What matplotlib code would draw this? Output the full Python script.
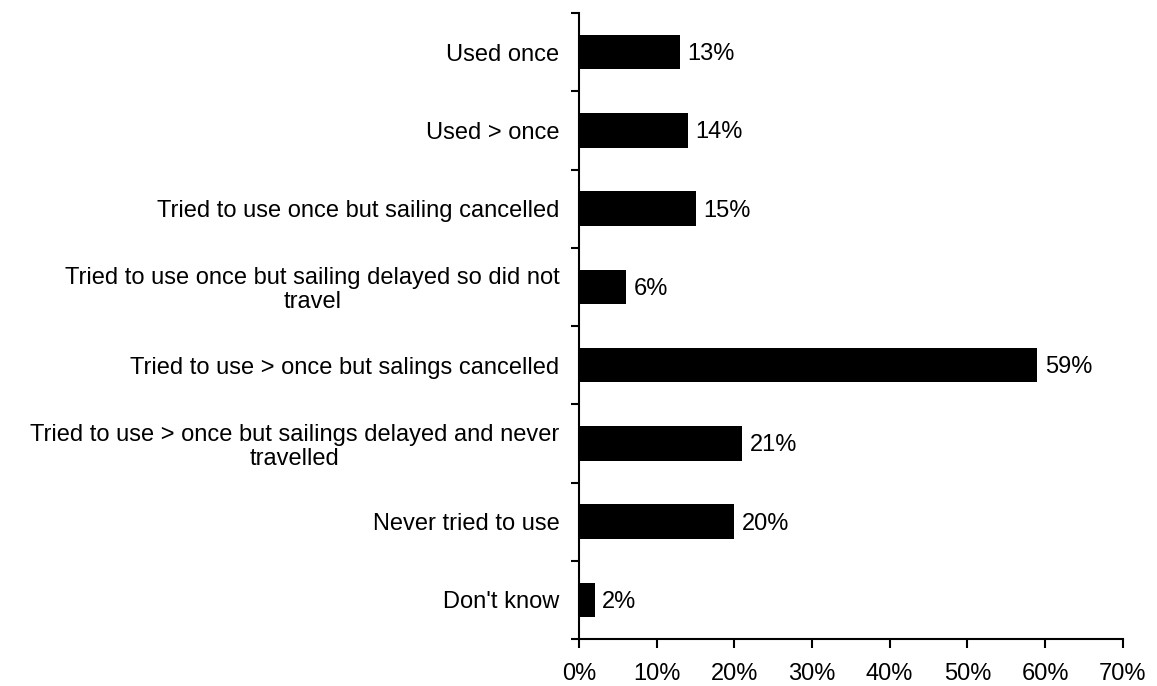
import matplotlib
matplotlib.use('Agg')
import matplotlib.pyplot as plt
import numpy as np
from matplotlib.ticker import FixedLocator, NullFormatter

plt.rcParams['font.family'] = ['Liberation Sans', 'DejaVu Sans']

categories = ['Used once',
              'Used > once',
              'Tried to use once but sailing cancelled',
              'Tried to use once but sailing delayed so did not\ntravel',
              'Tried to use > once but salings cancelled',
              'Tried to use > once but sailings delayed and never\ntravelled',
              'Never tried to use',
              "Don't know"]
values = [13, 14, 15, 6, 59, 21, 20, 2]
xticks = [0, 10, 20, 30, 40, 50, 60, 70]

fs = 17

fig = plt.figure(figsize=(11.57, 6.86), dpi=100)
ax = fig.add_axes([579 / 1157, 1 - 639 / 686, (1122.7 - 579) / 1157, (639 - 13) / 686])

y = np.arange(len(categories))
ax.barh(y, values, height=0.44, color='black')
for yi, v in zip(y, values):
    ax.text(v + 1.0, yi + 0.025, f'{v}%', va='center', ha='left', fontsize=fs)

ax.set_ylim(len(categories) - 0.5, -0.5)
ax.set_xlim(0, 70)
ax.set_xticks(xticks)
ax.set_xticklabels([f'{t}%' for t in xticks], fontsize=fs)
ax.set_yticks(y)
ax.set_yticklabels(categories, fontsize=fs, multialignment='center', linespacing=1.1)
ax.yaxis.set_minor_locator(FixedLocator(np.arange(-0.5, len(categories), 1)))
ax.yaxis.set_minor_formatter(NullFormatter())
ax.tick_params(axis='y', which='major', length=0, pad=14)
ax.tick_params(axis='y', which='minor', length=6, width=1.5, direction='out')
ax.tick_params(axis='x', length=6.5, width=1.5, direction='out', pad=11)

for s in ['top', 'right']:
    ax.spines[s].set_visible(False)
for s in ['left', 'bottom']:
    ax.spines[s].set_linewidth(1.5)

fig.savefig('out.png', dpi=100)
